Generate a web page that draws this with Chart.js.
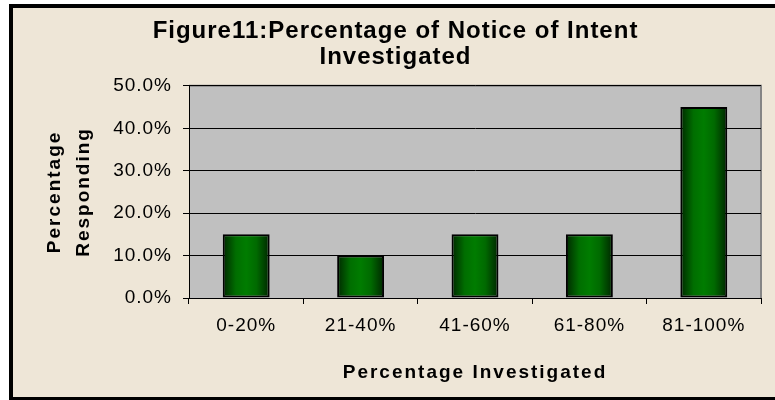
<!DOCTYPE html>
<html>
<head>
<meta charset="utf-8">
<script src="https://cdn.jsdelivr.net/npm/chart.js@4.4.1/dist/chart.umd.min.js"></script>
<style>
html,body{margin:0;padding:0;background:#ffffff;}
#wrap{width:775px;height:400px;}
</style>
</head>
<body>
<div id="wrap"><canvas id="c" width="775" height="400"></canvas></div>
<script>
// ---- data ----
const categories = ['0-20%', '21-40%', '41-60%', '61-80%', '81-100%'];
const percentResponding = [15, 10, 15, 15, 45];
const yTickValues = [0, 10, 20, 30, 40, 50];
const titleLines = ['Figure11:Percentage of Notice of Intent', 'Investigated'];
const xAxisTitle = 'Percentage Investigated';
const yAxisTitle = ['Percentage', 'Responding'];

const FONT = "'Liberation Sans', Arial, sans-serif";
const BAR_FRACTION = 0.41;

function barGradient(ctx) {
  const chart = ctx.chart;
  const xs = chart.scales && chart.scales.x;
  if (!chart.chartArea || !xs || ctx.type !== 'data') return '#007800';
  const xc = xs.getPixelForValue(ctx.dataIndex);
  const w = xs.width / categories.length * BAR_FRACTION;
  const g = chart.ctx.createLinearGradient(xc - w / 2, 0, xc + w / 2, 0);
  g.addColorStop(0, '#002800');
  g.addColorStop(0.28, '#006e00');
  g.addColorStop(0.5, '#007c00');
  g.addColorStop(0.72, '#006a00');
  g.addColorStop(1, '#002600');
  return g;
}

function withSpacing(obj, method, sp, dx) {
  if (!obj || obj['__sp_' + method]) return;
  const orig = obj[method];
  obj[method] = function (...args) {
    const c = this.ctx;
    const prev = c.letterSpacing;
    c.save();
    c.letterSpacing = sp;
    if (dx) c.translate(dx, 0);
    try { return orig.apply(this, args); }
    finally { c.restore(); c.letterSpacing = prev; }
  };
  obj['__sp_' + method] = true;
}

const framePlugin = {
  id: 'frame',
  beforeDraw(chart) {
    const c = chart.ctx;
    const a = chart.chartArea;
    c.save();
    c.fillStyle = '#ffffff';
    c.fillRect(0, 0, 775, 400);
    c.fillStyle = '#EEE6D7';
    c.fillRect(9, 4, 766, 396);
    c.fillStyle = '#000000';
    c.fillRect(9, 4, 4, 396);
    c.fillRect(9, 4, 766, 4);
    c.fillRect(9, 397, 766, 3);
    c.fillStyle = '#C0C0C0';
    c.fillRect(a.left, a.top, a.right - a.left, a.bottom - a.top);
    c.strokeStyle = '#858585';
    c.lineWidth = 2;
    c.beginPath();
    c.moveTo(a.left, a.top);
    c.lineTo(a.right, a.top);
    c.lineTo(a.right, a.bottom);
    c.stroke();
    c.restore();
    chart.ctx.letterSpacing = '1px';
    withSpacing(chart.titleBlock, 'draw', '1px', 8);
    withSpacing(chart.scales.x, 'drawTitle', '2px', 0);
    withSpacing(chart.scales.y, 'drawTitle', '2px', 0);
  }
};

new Chart(document.getElementById('c'), {
  type: 'bar',
  data: {
    labels: categories,
    datasets: [{
      data: percentResponding,
      backgroundColor: barGradient,
      borderColor: '#000000',
      borderWidth: 2,
      borderSkipped: false,
      categoryPercentage: 1,
      barPercentage: BAR_FRACTION
    }]
  },
  plugins: [framePlugin],
  options: {
    responsive: false,
    animation: false,
    devicePixelRatio: 1,
    layout: { padding: { left: 14, right: 14, top: 8, bottom: 8 } },
    plugins: {
      legend: { display: false },
      tooltip: { enabled: false },
      title: {
        display: true,
        text: titleLines,
        color: '#000000',
        font: { family: FONT, size: 24, weight: 'bold', lineHeight: 1.08 },
        padding: { top: 10, bottom: 16 }
      }
    },
    scales: {
      x: {
        grid: { display: true, drawOnChartArea: false, drawTicks: true, tickLength: 6, color: '#000000', offset: true },
        border: { display: true, color: '#000000', width: 1 },
        ticks: { color: '#000000', font: { family: FONT, size: 19 }, padding: 10, maxRotation: 0, autoSkip: false },
        title: {
          display: true,
          text: xAxisTitle,
          color: '#000000',
          font: { family: FONT, size: 19, weight: 'bold', lineHeight: 1.2 },
          padding: { top: 0, bottom: 8 }
        },
        afterFit(s) { s.height = 94; }
      },
      y: {
        min: 0,
        max: 50,
        afterBuildTicks(s) { s.ticks = yTickValues.map(v => ({ value: v })); },
        grid: { color: '#000000', lineWidth: 1, drawTicks: true, tickLength: 6, tickColor: '#000000' },
        border: { display: true, color: '#000000', width: 1 },
        ticks: {
          color: '#000000',
          font: { family: FONT, size: 19 },
          padding: 11,
          callback: v => Number(v).toFixed(1) + '%'
        },
        title: {
          display: true,
          text: yAxisTitle,
          color: '#000000',
          font: { family: FONT, size: 19, weight: 'bold', lineHeight: 1.55 },
          padding: { top: 26, bottom: 0 }
        },
        afterFit(s) { s.width = 175; }
      }
    }
  }
});
</script>
</body>
</html>
